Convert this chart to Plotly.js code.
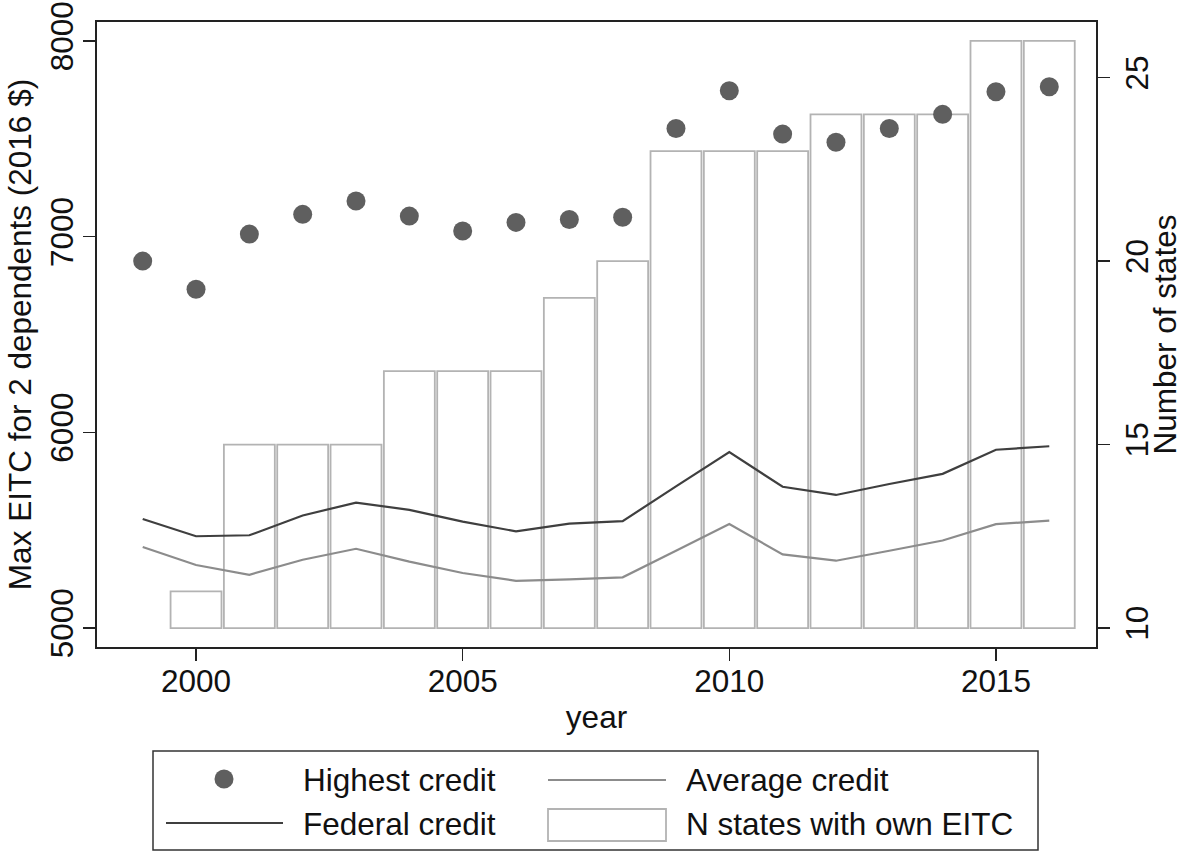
<!DOCTYPE html>
<html>
<head>
<meta charset="utf-8">
<script src="https://cdn.plot.ly/plotly-3.0.1.min.js"></script>
<style>
html,body{margin:0;padding:0;background:#fff;}
#chart{width:1183px;height:852px;}
</style>
</head>
<body>
<div id="chart"></div>
<script>
// ---- data ----
const years = [1999,2000,2001,2002,2003,2004,2005,2006,2007,2008,2009,2010,2011,2012,2013,2014,2015,2016];
const highestCredit = [6875,6731,7013,7114,7182,7105,7029,7073,7088,7099,7553,7746,7524,7482,7553,7625,7741,7766];
const federalCredit = [5557,5469,5474,5575,5641,5604,5544,5494,5533,5546,5724,5899,5722,5680,5736,5788,5911,5929];
const averageCredit = [5414,5322,5272,5349,5405,5339,5281,5241,5249,5259,5395,5531,5376,5344,5395,5447,5531,5549];
const barYears = [2000,2001,2002,2003,2004,2005,2006,2007,2008,2009,2010,2011,2012,2013,2014,2015,2016];
const nStates = [11,15,15,15,17,17,17,19,20,23,23,23,24,24,24,26,26];
const barBase = 10;
const xTickVals = [2000,2005,2010,2015];
const leftTickVals = [5000,6000,7000,8000];
const rightTickVals = [10,15,20,25];
const legendLabels = ["Highest credit","Average credit","Federal credit","N states with own EITC"];

// ---- styling ----
const FONT = "Liberation Sans, Arial, Helvetica, sans-serif";
const FS = 31.5;
const TXT = "#111111";
const AX = "#222222";
const DOT = "#5f5f5f";
const FED = "#3f3f3f";
const AVG = "#8c8c8c";
const BARLINE = "#b3b3b3";

// plot-area pixel frame (for legend placement)
const L = 97, R = 1096, T = 22, B = 647;
const W = 1183, H = 852;
function px(x){ return (x - L) / (R - L); }
function py(y){ return (B - y) / (B - T); }

const traces = [
  {
    type: "bar", x: barYears, y: nStates.map(v => v - barBase), base: barBase,
    width: 0.955, yaxis: "y", xaxis: "x",
    marker: {color: "#ffffff", line: {color: BARLINE, width: 1.8}},
    name: legendLabels[3], showlegend: false, hoverinfo: "x+text",
    text: nStates.map(String), textposition: "none"
  },
  {
    type: "scatter", mode: "lines", x: years, y: averageCredit, yaxis: "y2",
    line: {color: AVG, width: 2.2}, name: legendLabels[1], showlegend: false
  },
  {
    type: "scatter", mode: "lines", x: years, y: federalCredit, yaxis: "y2",
    line: {color: FED, width: 2.2}, name: legendLabels[2], showlegend: false
  },
  {
    type: "scatter", mode: "markers", x: years, y: highestCredit, yaxis: "y2",
    marker: {color: DOT, size: 19, line: {width: 0}}, name: legendLabels[0], showlegend: false
  }
];

// legend drawn as shapes + text
const shapes = [
  {type:"rect", xref:"paper", yref:"paper", x0:px(153), x1:px(1038), y0:py(850), y1:py(751),
   line:{color:"#333333", width:1.5}, fillcolor:"rgba(0,0,0,0)"},
  {type:"circle", xref:"paper", yref:"paper", x0:px(214.5), x1:px(233.5), y0:py(788.5), y1:py(769.5),
   line:{width:0}, fillcolor:DOT},
  {type:"line", xref:"paper", yref:"paper", x0:px(548), x1:px(666), y0:py(780), y1:py(780),
   line:{color:AVG, width:2.2}},
  {type:"line", xref:"paper", yref:"paper", x0:px(166), x1:px(283), y0:py(823), y1:py(823),
   line:{color:FED, width:2.2}},
  {type:"rect", xref:"paper", yref:"paper", x0:px(548), x1:px(666), y0:py(841), y1:py(809),
   line:{color:BARLINE, width:1.8}, fillcolor:"#ffffff"}
];
const legendPos = [[301,780],[684,780],[301,824],[684,824]];
const annotations = legendLabels.map((t,i) => ({
  text: t, xref:"paper", yref:"paper", x: px(legendPos[i][0]), y: py(legendPos[i][1]),
  xanchor:"left", yanchor:"middle", showarrow:false,
  font:{family:FONT, size:FS, color:TXT}
}));

const layout = {
  width: W, height: H,
  margin: {l: L, r: W - R, t: T, b: H - B, pad: 0},
  paper_bgcolor: "#ffffff", plot_bgcolor: "#ffffff",
  font: {family: FONT, size: FS, color: TXT},
  showlegend: false,
  bargap: 0,
  xaxis: {
    range: [1998.143, 2016.876], tickvals: xTickVals, ticktext: xTickVals.map(String),
    ticks: "outside", ticklen: 12, tickwidth: 1.5, tickcolor: AX,
    ticklabelstandoff: -7,
    showline: true, linecolor: AX, linewidth: 2, mirror: true,
    showgrid: false, zeroline: false,
    tickfont: {family: FONT, size: FS, color: TXT},
    title: {text: "year", font: {family: FONT, size: FS, color: TXT}, standoff: 8}
  },
  yaxis: {
    side: "right", range: [9.483, 26.517], tickvals: rightTickVals, ticktext: rightTickVals.map(String),
    ticks: "outside", ticklen: 12, tickwidth: 1.5, tickcolor: AX, tickangle: -90,
    showline: true, linecolor: AX, linewidth: 2,
    showgrid: false, zeroline: false,
    tickfont: {family: FONT, size: FS, color: TXT},
    title: {text: "Number of states", font: {family: FONT, size: FS, color: TXT}, standoff: 0}
  },
  yaxis2: {
    overlaying: "y", side: "left", range: [4903, 8097], tickvals: leftTickVals, ticktext: leftTickVals.map(String),
    ticks: "outside", ticklen: 12, tickwidth: 1.5, tickcolor: AX, tickangle: -90,
    ticklabelstandoff: -3,
    showline: true, linecolor: AX, linewidth: 2,
    showgrid: false, zeroline: false,
    tickfont: {family: FONT, size: FS, color: TXT},
    title: {text: "Max EITC for 2 dependents (2016 $)", font: {family: FONT, size: FS, color: TXT}, standoff: 3}
  },
  shapes: shapes,
  annotations: annotations
};

Plotly.newPlot("chart", traces, layout, {displayModeBar: false, staticPlot: true});
</script>
</body>
</html>
